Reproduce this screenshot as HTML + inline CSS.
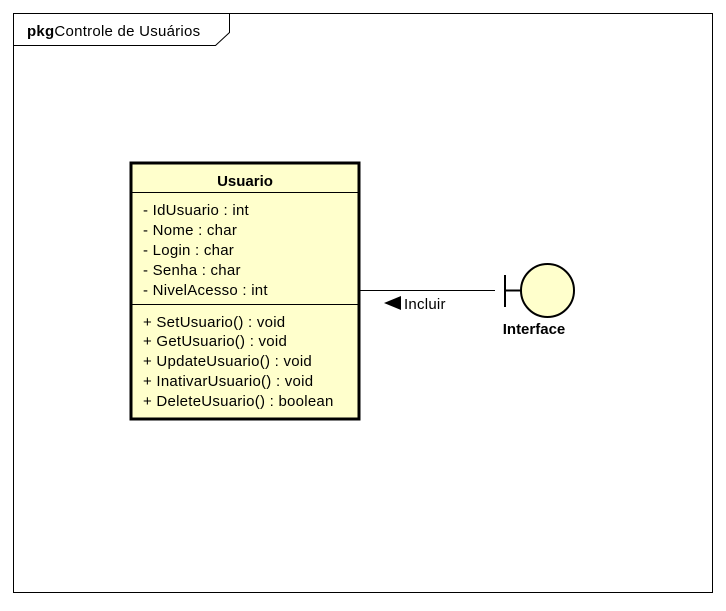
<!DOCTYPE html>
<html><head><style>
body{margin:0;background:#fff;}
svg text{font-family:"Liberation Sans",sans-serif;font-size:15px;fill:#000;}
.m{letter-spacing:0.25px;}
</style></head><body>
<svg width="726" height="606" xmlns="http://www.w3.org/2000/svg">
<rect x="0" y="0" width="726" height="606" fill="#fff"/>
<rect x="13.5" y="13.5" width="699" height="579" fill="none" stroke="#000" stroke-width="1"/>
<polyline points="13.5,45.5 215.5,45.5 229.5,32.5 229.5,13.5" fill="none" stroke="#000" stroke-width="1"/>
<text x="27" y="36" class="m"><tspan font-weight="bold">pkg</tspan>Controle de Usuários</text>
<rect x="131" y="163" width="228" height="256" fill="#ffffcc" stroke="#000" stroke-width="3"/>
<line x1="131" y1="192.5" x2="359" y2="192.5" stroke="#000" stroke-width="1"/>
<line x1="131" y1="304.5" x2="359" y2="304.5" stroke="#000" stroke-width="1"/>
<text x="245" y="186" text-anchor="middle" font-weight="bold">Usuario</text>
<g class="m">
<text x="143" y="215">- IdUsuario : int</text>
<text x="143" y="235">- Nome : char</text>
<text x="143" y="255">- Login : char</text>
<text x="143" y="275">- Senha : char</text>
<text x="143" y="295">- NivelAcesso : int</text>
<text x="143" y="327">+ SetUsuario() : void</text>
<text x="143" y="346">+ GetUsuario() : void</text>
<text x="143" y="366">+ UpdateUsuario() : void</text>
<text x="143" y="386">+ InativarUsuario() : void</text>
<text x="143" y="406">+ DeleteUsuario() : boolean</text>
</g>
<line x1="360" y1="290.5" x2="495" y2="290.5" stroke="#000" stroke-width="1"/>
<polygon points="384,303 401,296 401,310" fill="#000"/>
<text x="404" y="309" class="m">Incluir</text>
<line x1="505" y1="275" x2="505" y2="307" stroke="#000" stroke-width="2"/>
<line x1="505" y1="290.5" x2="521" y2="290.5" stroke="#000" stroke-width="2"/>
<circle cx="547.5" cy="290.5" r="26.5" fill="#ffffcc" stroke="#000" stroke-width="2"/>
<text x="534" y="334" text-anchor="middle" font-weight="bold">Interface</text>
</svg>
</body></html>
